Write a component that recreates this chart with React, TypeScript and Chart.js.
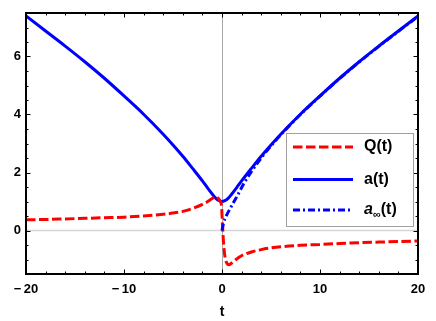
import React, { useEffect, useRef } from 'react';
import { Chart, registerables } from 'chart.js';

Chart.register(...registerables);

// ---- data ----
const tA = [-20, -18, -16, -14, -12, -10, -8, -6, -5, -4, -3, -2, -1.5, -1, -0.6, -0.3, 0, 0.3, 0.6, 1, 1.5, 2, 3, 4, 5, 6, 8, 10, 12, 14, 16, 18, 20];
const aVals = [7.40, 6.88, 6.36, 5.82, 5.25, 4.64, 4.01, 3.32, 2.95, 2.56, 2.14, 1.71, 1.48, 1.26, 1.10, 1.03, 1.00, 1.03, 1.10, 1.26, 1.48, 1.71, 2.14, 2.56, 2.95, 3.32, 4.01, 4.64, 5.25, 5.82, 6.36, 6.88, 7.40];

const tQ = [-20, -18, -16, -14, -12, -10, -8, -6, -5, -4, -3, -2, -1.5, -1, -0.7, -0.45, -0.2, -0.05, 0.05, 0.15, 0.3, 0.5, 0.7, 1, 1.5, 2, 3, 4, 5, 6, 8, 10, 12, 14, 16, 18, 20];
const qVals = [0.37, 0.38, 0.40, 0.42, 0.44, 0.46, 0.50, 0.56, 0.60, 0.66, 0.76, 0.90, 0.99, 1.10, 1.16, 1.13, 1.02, 0.85, 0.20, -0.40, -0.90, -1.13, -1.18, -1.12, -0.98, -0.87, -0.74, -0.66, -0.60, -0.56, -0.51, -0.48, -0.45, -0.42, -0.40, -0.38, -0.36];

const tInf = [0, 0.15, 0.3, 0.5, 0.8, 1.2, 1.6, 2.2, 3, 4, 5, 6, 8, 10, 12, 14, 16, 18, 20];
const aInfVals = [0, 0.25, 0.40, 0.55, 0.74, 0.98, 1.22, 1.60, 2.03, 2.50, 2.92, 3.30, 4.00, 4.63, 5.24, 5.81, 6.35, 6.87, 7.38];

const seriesLabels = ['Q(t)', 'a(t)', 'a∞(t)'];
const xTickValues = [-20, -10, 0, 10, 20];
const xTickLabels = ['\u2212\u200920', '\u2212\u200910', '0', '10', '20'];
const yTickValues = [0, 2, 4, 6];
const yTickLabels = ['0', '2', '4', '6'];
const xRange = [-20, 20];
const yRange = [-1.5, 7.5];
const xTitle = 't';

const FONT = "'Liberation Sans', Arial, Helvetica, sans-serif";

const toPts = (xs: number[], ys: number[]) => xs.map((x, i) => ({ x, y: ys[i] }));

const axesPlugin = {
  id: 'mmaAxes',
  beforeDatasetsDraw(chart: any) {
    const { ctx, chartArea, scales } = chart;
    const { left, right, top, bottom } = chartArea;
    const x0 = Math.round(scales.x.getPixelForValue(0)) + 0.5;
    const y0 = scales.y.getPixelForValue(0);
    ctx.save();
    ctx.strokeStyle = '#d6d6d6';
    ctx.lineWidth = 1.5;
    ctx.beginPath();
    ctx.moveTo(left, y0);
    ctx.lineTo(right, y0);
    ctx.stroke();
    ctx.strokeStyle = '#a8a8a8';
    ctx.lineWidth = 1;
    ctx.beginPath();
    ctx.moveTo(x0, top);
    ctx.lineTo(x0, bottom);
    ctx.stroke();
    ctx.restore();
  },
  afterDatasetsDraw(chart: any) {
    const { ctx, chartArea, scales } = chart;
    const { left, right, top, bottom } = chartArea;
    ctx.save();
    ctx.strokeStyle = '#000';
    ctx.lineWidth = 1;
    ctx.beginPath();
    for (let v = xRange[0]; v <= xRange[1] + 1e-9; v += 2) {
      const px = Math.round(scales.x.getPixelForValue(v)) + 0.5;
      const len = Math.abs(v % 10) < 1e-9 ? 4.5 : 2.5;
      ctx.moveTo(px, bottom);
      ctx.lineTo(px, bottom - len);
      ctx.moveTo(px, top);
      ctx.lineTo(px, top + len);
    }
    for (let v = yRange[0]; v <= yRange[1] + 1e-9; v += 0.5) {
      const py = Math.round(scales.y.getPixelForValue(v)) + 0.5;
      const len = Math.abs(v % 2) < 1e-9 ? 4.5 : 2.5;
      ctx.moveTo(left, py);
      ctx.lineTo(left + len, py);
      ctx.moveTo(right, py);
      ctx.lineTo(right - len, py);
    }
    ctx.stroke();
    ctx.lineWidth = 2;
    ctx.strokeRect(left, top, right - left, bottom - top);
    ctx.restore();
  },
};

const legendPlugin = {
  id: 'boxLegend',
  afterDraw(chart: any) {
    const { ctx, chartArea } = chart;
    const bx = chartArea.right - 132;
    const by = chartArea.top + 120;
    const bw = 127;
    const bh = 93;
    ctx.save();
    ctx.fillStyle = '#fff';
    ctx.fillRect(bx, by, bw, bh);
    ctx.strokeStyle = '#a0a0a0';
    ctx.lineWidth = 1;
    ctx.strokeRect(bx + 0.5, by + 0.5, bw, bh);
    const rows = [14, 46.5, 77];
    chart.data.datasets.forEach((ds: any, i: number) => {
      const y = by + rows[i];
      ctx.strokeStyle = ds.borderColor;
      ctx.lineWidth = ds.borderWidth;
      ctx.setLineDash(ds.borderDash || []);
      ctx.beginPath();
      ctx.moveTo(bx + 7, y);
      ctx.lineTo(bx + 67, y);
      ctx.stroke();
      ctx.setLineDash([]);
      ctx.fillStyle = '#000';
      ctx.textBaseline = 'middle';
      ctx.textAlign = 'left';
      let tx = bx + 78;
      const label: string = ds.label;
      if (label.includes('∞')) {
        const [pre, post] = label.split('∞');
        ctx.font = `italic bold 16px ${FONT}`;
        ctx.fillText(pre, tx, y);
        tx += ctx.measureText(pre).width;
        ctx.font = `bold 11px ${FONT}`;
        ctx.fillText('∞', tx, y + 5);
        tx += ctx.measureText('∞').width;
        ctx.font = `bold 16px ${FONT}`;
        ctx.fillText(post, tx, y);
      } else {
        ctx.font = `bold 16px ${FONT}`;
        ctx.fillText(label, tx, y);
      }
    });
    ctx.restore();
  },
};

export default function App() {
  const ref = useRef<HTMLCanvasElement | null>(null);
  useEffect(() => {
    if (!ref.current) return;
    const chart = new Chart(ref.current, {
      type: 'line',
      data: {
        datasets: [
          {
            label: seriesLabels[0],
            data: toPts(tQ, qVals),
            borderColor: '#ff0000',
            borderWidth: 3,
            borderDash: [9.5, 3.5],
            pointRadius: 0,
            cubicInterpolationMode: 'monotone',
            order: 1,
          },
          {
            label: seriesLabels[1],
            data: toPts(tA, aVals),
            borderColor: '#0000ff',
            borderWidth: 3,
            pointRadius: 0,
            cubicInterpolationMode: 'monotone',
            order: 2,
          },
          {
            label: seriesLabels[2],
            data: toPts(tInf, aInfVals),
            borderColor: '#0000ff',
            borderWidth: 3,
            borderDash: [7, 3, 2, 3],
            pointRadius: 0,
            cubicInterpolationMode: 'monotone',
            order: 0,
          },
        ],
      },
      options: {
        animation: false,
        responsive: false,
        maintainAspectRatio: false,
        layout: { padding: { top: 13, right: 18, left: 0, bottom: 0 } },
        plugins: { legend: { display: false }, tooltip: { enabled: false } },
        scales: {
          x: {
            type: 'linear',
            min: xRange[0],
            max: xRange[1],
            afterBuildTicks: (s: any) => {
              s.ticks = xTickValues.map((v) => ({ value: v }));
            },
            afterFit: (s: any) => {
              s.height = 47;
            },
            ticks: {
              autoSkip: false,
              maxRotation: 0,
              padding: 8,
              color: '#000',
              font: { family: FONT, size: 13, weight: 'bold' },
              callback: (v: any) => {
                const i = xTickValues.indexOf(Number(v));
                return i >= 0 ? xTickLabels[i] : '';
              },
            },
            grid: { display: false, drawTicks: false },
            border: { display: false },
            title: {
              display: true,
              text: xTitle,
              color: '#000',
              padding: 0,
              font: { family: FONT, size: 14, weight: 'bold' },
            },
          },
          y: {
            type: 'linear',
            min: yRange[0],
            max: yRange[1],
            afterBuildTicks: (s: any) => {
              s.ticks = yTickValues.map((v) => ({ value: v }));
            },
            afterFit: (s: any) => {
              s.width = 26;
            },
            ticks: {
              autoSkip: false,
              padding: 5,
              color: '#000',
              font: { family: FONT, size: 13, weight: 'bold' },
              callback: (v: any) => {
                const i = yTickValues.indexOf(Number(v));
                return i >= 0 ? yTickLabels[i] : '';
              },
            },
            grid: { display: false, drawTicks: false },
            border: { display: false },
          },
        },
      },
      plugins: [axesPlugin, legendPlugin],
    } as any);
    return () => chart.destroy();
  }, []);
  return (
    <div style={{ position: 'fixed', left: 0, top: 0, width: 436, height: 321, background: '#fff' }}>
      <canvas ref={ref} width={436} height={321} style={{ width: 436, height: 321 }} />
    </div>
  );
}
